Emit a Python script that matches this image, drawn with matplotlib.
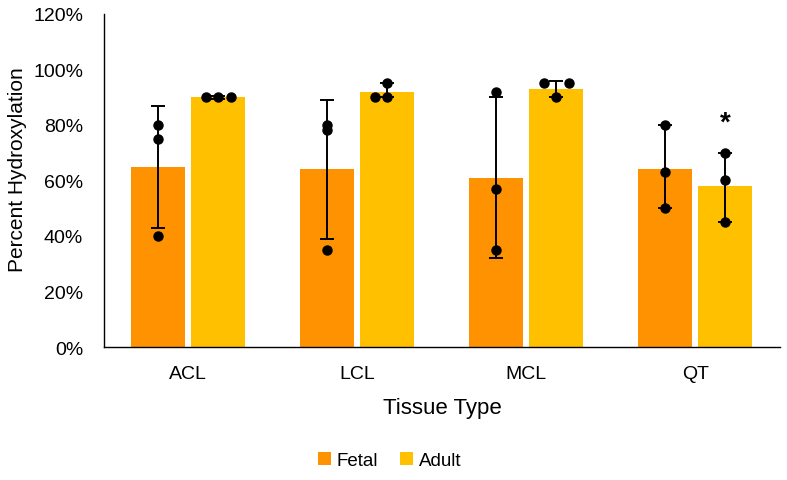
import matplotlib.pyplot as plt
import numpy as np

tissues = ["ACL", "LCL", "MCL", "QT"]
fetal_mean = [65, 64, 61, 64]
adult_mean = [90, 92, 93, 58]

# error bar ends (low, high)
fetal_lo = [43, 39, 32, 50]
fetal_hi = [87, 89, 90, 80]
adult_lo = [89.5, 90, 90, 45]
adult_hi = [90.5, 95, 96, 70]

# individual samples
fetal_pts = [[80, 75, 40], [80, 78, 35], [92, 57, 35], [80, 63, 50]]
adult_pts = [[90, 90, 90], [90, 90, 95], [95, 90, 95], [70, 60, 45]]
adult_offsets = [[-0.075, 0.0, 0.075], [-0.075, 0.0, 0.0], [-0.075, 0.0, 0.075], [0, 0, 0]]

fetal_color = "#FF9200"
adult_color = "#FFC000"

plt.rcParams["font.family"] = ["Liberation Sans", "DejaVu Sans"]

fig = plt.figure(figsize=(7.87, 4.81), dpi=100)
ax = fig.add_axes((0.132, 0.2765, 0.859, 0.6925))

x = np.arange(len(tissues))
w = 0.32
gap = 0.035
xf = x - w / 2 - gap / 2
xa = x + w / 2 + gap / 2

ax.bar(xf, fetal_mean, width=w, color=fetal_color, label="Fetal", zorder=1)
ax.bar(xa, adult_mean, width=w, color=adult_color, label="Adult", zorder=1)

for xs, m, lo, hi in [(xf, fetal_mean, fetal_lo, fetal_hi), (xa, adult_mean, adult_lo, adult_hi)]:
    m = np.array(m)
    yerr = [m - np.array(lo), np.array(hi) - m]
    ax.errorbar(xs, m, yerr=yerr, fmt="none", ecolor="black", elinewidth=1.4,
                capsize=5, capthick=1.4, zorder=2)

for i in range(len(tissues)):
    ax.plot([xf[i]] * 3, fetal_pts[i], "o", color="black", ms=6.5, zorder=3)
    ax.plot(xa[i] + np.array(adult_offsets[i]), adult_pts[i], "o", color="black", ms=6.5, zorder=3)

ax.text(xa[3], 76, "*", ha="center", va="bottom", fontsize=20, fontweight="bold")

ax.set_xlim(-0.5, 3.5)
ax.set_ylim(0, 120)
ax.set_yticks(range(0, 121, 20))
ax.set_yticklabels([f"{v}%" for v in range(0, 121, 20)], fontsize=14)
ax.set_xticks(x)
ax.set_xticklabels(tissues, fontsize=14)
ax.tick_params(length=0)
ax.tick_params(axis="x", pad=13)
ax.tick_params(axis="y", pad=15)

for s in ["top", "right"]:
    ax.spines[s].set_visible(False)
for s in ["left", "bottom"]:
    ax.spines[s].set_color("black")
    ax.spines[s].set_linewidth(1.0)

ax.set_ylabel("Percent Hydroxylation", fontsize=15)
ax.yaxis.set_label_coords(-0.114, 0.535)
ax.set_xlabel("Tissue Type", fontsize=16, labelpad=11)

fig.legend(loc="lower center", bbox_to_anchor=(0.495, -0.012), ncol=2, frameon=False,
           fontsize=13.5, handlelength=0.7, handleheight=0.7, handletextpad=0.3, columnspacing=1.2)

fig.savefig("out.png", dpi=100)
